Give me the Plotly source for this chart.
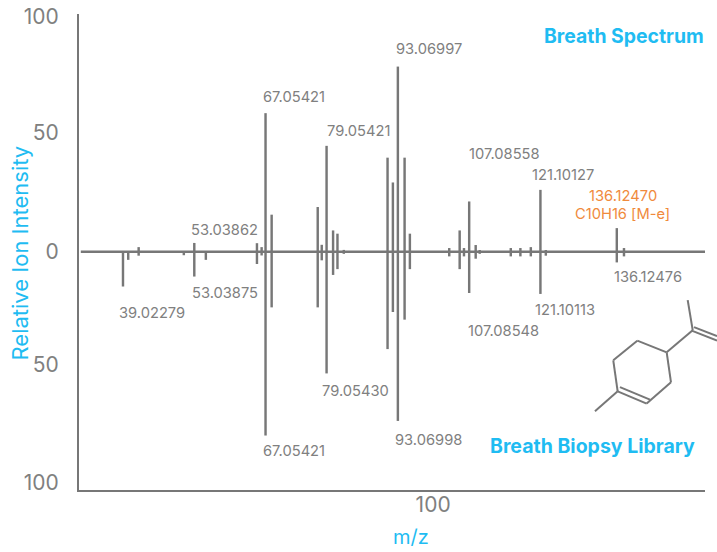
import plotly.graph_objects as go

mz = [39.02, 40.05, 42.1, 50.98, 53.04, 55.31, 65.36, 66.28, 67.05, 68.25, 77.31, 78.1, 79.05,
      80.33, 81.19, 82.44, 91.04, 92.09, 93.07, 94.39, 95.43, 103.17, 105.22, 106.07, 107.09,
      108.37, 109.16, 115.27, 117.16, 119.21, 121.1, 122.16, 136.12, 137.53]
breath = [0, 0, 2, 0, 3.8, 0, 3.7, 2, 59.8, 16, 19.3, 3, 45.7,
          9.2, 7.8, 0.8, 40.6, 29.9, 79.9, 40.6, 7.8, 1.6, 9.2, 1.6, 21.7,
          2.9, 0.7, 1.6, 1.6, 2, 26.7, 0.7, 10.2, 1.6]
library = [-15, -3.5, -1.7, -1.5, -10.7, -3.5, -5.3, -1.6, -79.3, -24, -24, -3.7, -52.5,
           -10, -7.5, -0.9, -42, -26, -73, -29.3, -7.5, -2, -7.5, -2, -17.8,
           -3, -0.9, -2, -2, -2, -18.2, -1.7, -4.6, -2]
y_tick_vals = [101.5, 51.5, 0, -48.5, -99.5]
y_tick_text = ["100", "50", "0", "50", "100"]

GRAY = "#777777"
TEXT = "#808080"
BLUE = "#1fbcf2"
ORANGE = "#f08a3c"
FONT = "Inter"
X0, X1, Y0, Y1 = 79.2, 705.0, 14.0, 490.5
XR = [30.37, 153.46]
YR = [-(Y1 - 252) / 2.32, (252 - Y0) / 2.32]

def px(x):
    return (x - X0) / (X1 - X0)

def py(y):
    return (Y1 - y) / (Y1 - Y0)

fig = go.Figure()
fig.add_bar(x=mz, y=breath, width=0.48, marker=dict(color=GRAY, line=dict(width=0)), name="Breath Spectrum")
fig.add_bar(x=mz, y=library, width=0.48, marker=dict(color=GRAY, line=dict(width=0)), name="Breath Biopsy Library")

labels = [
    (263, 97, "67.05421", TEXT), (327, 131, "79.05421", TEXT),
    (396, 49, "93.06997", TEXT), (469, 154, "107.08558", TEXT),
    (532, 175, "121.10127", TEXT), (191, 230, "53.03862", TEXT),
    (119, 313, "39.02279", TEXT), (192, 293, "53.03875", TEXT),
    (263, 451, "67.05421", TEXT), (322, 391, "79.05430", TEXT),
    (395, 440, "93.06998", TEXT), (468, 331, "107.08548", TEXT),
    (535, 310, "121.10113", TEXT), (614, 277, "136.12476", TEXT),
    (589, 196, "136.12470", ORANGE), (575, 214, "C10H16 [M-e]", ORANGE),
]
ann = []
for x, y, t, c in labels:
    ann.append(dict(x=px(x), y=py(y), xref="paper", yref="paper", text=t, showarrow=False,
                    xanchor="left", yanchor="middle", xshift=-2, font=dict(family=FONT, size=14.7, color=c)))
ann.append(dict(x=px(706), y=py(36), xref="paper", yref="paper", text="<b>Breath Spectrum</b>", showarrow=False,
                xanchor="right", yanchor="middle", font=dict(family=FONT, size=19.4, color=BLUE)))
ann.append(dict(x=px(697), y=py(446), xref="paper", yref="paper", text="<b>Breath Biopsy Library</b>", showarrow=False,
                xanchor="right", yanchor="middle", font=dict(family=FONT, size=19.5, color=BLUE)))
ann.append(dict(x=px(411), y=py(538), xref="paper", yref="paper", text="m/z", showarrow=False,
                xanchor="center", yanchor="middle", font=dict(family=FONT, size=20, color=BLUE)))
ann.append(dict(x=px(20), y=py(253), xref="paper", yref="paper", text="Relative Ion Intensity", showarrow=False,
                textangle=-90, xanchor="center", yanchor="middle", font=dict(family=FONT, size=22, color=BLUE)))

shapes = [dict(type="line", xref="paper", yref="paper", x0=px(81), x1=px(705), y0=py(252), y1=py(252),
               line=dict(color=GRAY, width=2.4))]
segments = [
    (687.7, 300.4, 692.7, 330.5), (692.7, 330.5, 666.7, 352.7), (666.7, 352.7, 637.3, 341),
    (637.3, 341, 613.3, 360.7), (613.3, 360.7, 617.7, 391.7), (617.7, 391.7, 646.7, 404),
    (646.7, 404, 671, 382.7), (671, 382.7, 666.7, 352.7), (617.7, 391.7, 595, 411.7),
    (620, 387.5, 650, 400), (691.7, 331, 717, 341), (694, 327.5, 717, 336.5),
]
for a, b, c, d in segments:
    shapes.append(dict(type="line", xref="paper", yref="paper", x0=px(a), y0=py(b), x1=px(c), y1=py(d),
                       line=dict(color=GRAY, width=2)))

fig.update_layout(
    width=717, height=552, autosize=False, barmode="overlay", showlegend=False,
    paper_bgcolor="white", plot_bgcolor="white",
    margin=dict(l=X0, r=717 - X1, t=Y0, b=552 - Y1),
    font=dict(family=FONT, color=TEXT),
    annotations=ann, shapes=shapes,
    xaxis=dict(range=XR, tickvals=[100], ticktext=["100"], ticks="", ticklabelstandoff=-5,
               showgrid=False, zeroline=False, automargin=False,
               showline=True, linecolor=GRAY, linewidth=2, tickfont=dict(size=21, color=TEXT, family=FONT)),
    yaxis=dict(range=YR, tickvals=y_tick_vals, ticktext=y_tick_text, ticks="outside", ticklen=14, tickcolor="rgba(0,0,0,0)",
               showgrid=False, zeroline=False, automargin=False,
               showline=True, linecolor=GRAY, linewidth=2, tickfont=dict(size=21, color=TEXT, family=FONT)),
)
fig.write_html("out.html", config={"displayModeBar": False},
               post_script="document.body.style.margin='0';document.body.style.overflow='hidden';")
